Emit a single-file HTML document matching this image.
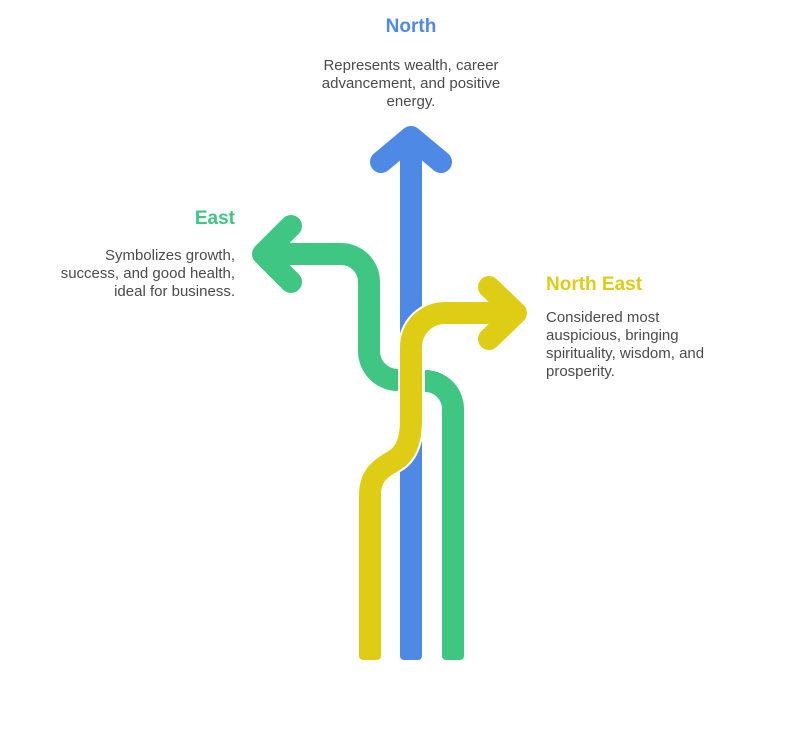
<!DOCTYPE html>
<html><head><meta charset="utf-8"><style>
html,body{margin:0;padding:0;background:#fff;}
svg{display:block}
text{font-family:"Liberation Sans",sans-serif;}
.d{font-size:15px;fill:#4a4a4a}
.t{font-size:19px;font-weight:bold}
</style></head><body>
<svg width="792" height="734" viewBox="0 0 792 734" xmlns="http://www.w3.org/2000/svg">
<g fill="none" stroke-linecap="round" stroke-linejoin="round">
<!-- green -->
<path d="M453 656 L453 409 A28 28 0 0 0 425 381" stroke="#3fc683" stroke-width="22" stroke-linecap="butt"/>
<rect x="442" y="640" width="22" height="20" rx="4" fill="#3fc683" stroke="none"/>
<path d="M398 380 A29 29 0 0 1 369 351 L369 282 A28 28 0 0 0 341 254 L266 254" stroke="#3fc683" stroke-width="22" stroke-linecap="butt"/>
<polyline points="291,226 263,254 291,282" stroke="#3fc683" stroke-width="22"/>
<!-- blue -->
<path d="M411 650 L411 140" stroke="#4f89e6" stroke-width="22" stroke-linecap="butt"/>
<rect x="400" y="640" width="22" height="20" rx="4" fill="#4f89e6" stroke="none"/>
<polyline points="381,162 411,137 441,162" stroke="#4f89e6" stroke-width="22"/>
<!-- yellow -->
<path d="M411 420 L411 347 A34 34 0 0 1 445 313 L515 313" stroke="#fff" stroke-width="26" stroke-linecap="butt"/>
<path d="M370 650 L370 495 C370 478 378 470 390 463 L395 460 C405 454 411 442 411 420" stroke="#fff" stroke-width="26" stroke-linecap="butt"/>
<path d="M370 650 L370 495 C370 478 378 470 390 463 L395 460 C405 454 411 442 411 420 L411 347 A34 34 0 0 1 445 313 L515 313" stroke="#dfcc15" stroke-width="22" stroke-linecap="butt"/>
<rect x="359" y="640" width="22" height="20" rx="4" fill="#dfcc15" stroke="none"/>
<polyline points="489,287 516,313 489,339" stroke="#dfcc15" stroke-width="22"/>
</g>
<text class="t" x="411" y="32" text-anchor="middle" fill="#4f89e6">North</text>
<text class="d" x="411" y="70" text-anchor="middle">Represents wealth, career</text>
<text class="d" x="411" y="88" text-anchor="middle">advancement, and positive</text>
<text class="d" x="411" y="106" text-anchor="middle">energy.</text>
<text class="t" x="235" y="224" text-anchor="end" fill="#3fc683">East</text>
<text class="d" x="235" y="260" text-anchor="end">Symbolizes growth,</text>
<text class="d" x="235" y="278" text-anchor="end">success, and good health,</text>
<text class="d" x="235" y="296" text-anchor="end">ideal for business.</text>
<text class="t" x="546" y="290" fill="#dfcc15">North East</text>
<text class="d" x="546" y="322">Considered most</text>
<text class="d" x="546" y="340">auspicious, bringing</text>
<text class="d" x="546" y="358">spirituality, wisdom, and</text>
<text class="d" x="546" y="376">prosperity.</text>
</svg>
</body></html>
